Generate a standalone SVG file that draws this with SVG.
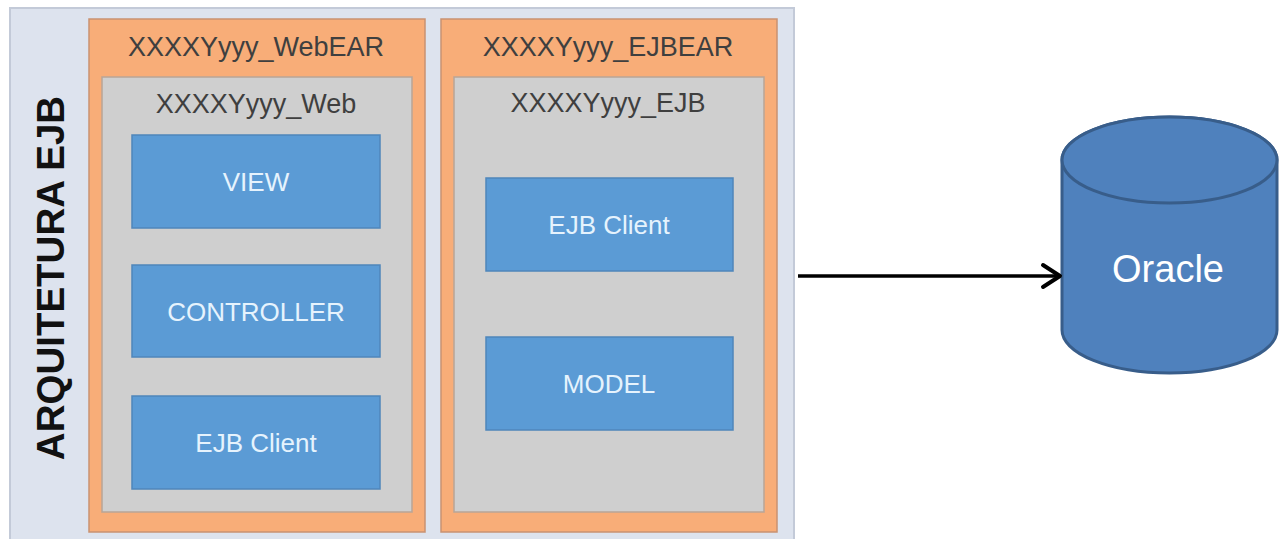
<svg xmlns="http://www.w3.org/2000/svg" width="1280" height="539" viewBox="0 0 1280 539">
<defs>
<style>
.panel{fill:#dde3ee;stroke:#c3cad8;stroke-width:2}
.ear{fill:#f8ad78;stroke:#c99272;stroke-width:1.5}
.mod{fill:#cfcfcf;stroke:#b9a596;stroke-width:1.5}
.blk{fill:#5b9bd5;stroke:#4f86bb;stroke-width:1.5}
.t1{font-family:"Liberation Sans",Arial,sans-serif;font-size:27px;fill:#3f3f3f;text-anchor:middle}
.t2{font-family:"Liberation Sans",Arial,sans-serif;font-size:26px;fill:#e6f3fd;text-anchor:middle}
.title{font-family:"Liberation Sans",Arial,sans-serif;font-size:38.5px;font-weight:bold;fill:#111;text-anchor:middle}
.db{fill:#4f81bd;stroke:#385d8a;stroke-width:3}
</style>
</defs>
<rect x="0" y="0" width="1280" height="539" fill="#ffffff"/>
<g id="panel">
<rect class="panel" x="10" y="8" width="784" height="535"/>
<text class="title" transform="translate(64,278) rotate(-90)">ARQUITETURA EJB</text>
</g>
<g id="webear">
<rect class="ear" x="89" y="19" width="336" height="513"/>
<text class="t1" x="256" y="56">XXXXYyyy_WebEAR</text>
</g>
<g id="web">
<rect class="mod" x="102" y="77" width="310" height="435"/>
<text class="t1" x="256" y="113">XXXXYyyy_Web</text>
</g>
<g id="view">
<rect class="blk" x="132" y="135" width="248" height="93"/>
<text class="t2" x="256" y="191">VIEW</text>
</g>
<g id="controller">
<rect class="blk" x="132" y="265" width="248" height="92"/>
<text class="t2" x="256" y="321">CONTROLLER</text>
</g>
<g id="ejbclient1">
<rect class="blk" x="132" y="396" width="248" height="93"/>
<text class="t2" x="256" y="452">EJB Client</text>
</g>
<g id="ejbear">
<rect class="ear" x="441" y="19" width="336" height="513"/>
<text class="t1" x="608" y="56">XXXXYyyy_EJBEAR</text>
</g>
<g id="ejb">
<rect class="mod" x="454" y="77" width="310" height="435"/>
<text class="t1" x="608" y="112">XXXXYyyy_EJB</text>
</g>
<g id="ejbclient2">
<rect class="blk" x="486" y="178" width="247" height="93"/>
<text class="t2" x="609" y="234">EJB Client</text>
</g>
<g id="model">
<rect class="blk" x="486" y="337" width="247" height="93"/>
<text class="t2" x="609" y="393">MODEL</text>
</g>
<g id="oracle">
<path class="db" d="M1062,160 L1062,330 A107.5,43 0 0 0 1277,330 L1277,160 A107.5,43 0 0 0 1062,160 Z"/>
<ellipse class="db" cx="1169.5" cy="160" rx="107.5" ry="43"/>
<text x="1168" y="282" font-family="'Liberation Sans',Arial,sans-serif" font-size="38" fill="#ffffff" text-anchor="middle">Oracle</text>
</g>
<g id="connectors">
<line x1="798" y1="276" x2="1059" y2="276" stroke="#000" stroke-width="3.5"/>
<polyline points="1043,265 1060,276 1043,287" fill="none" stroke="#000" stroke-width="4" stroke-linecap="round" stroke-linejoin="round"/>
</g>
</svg>
